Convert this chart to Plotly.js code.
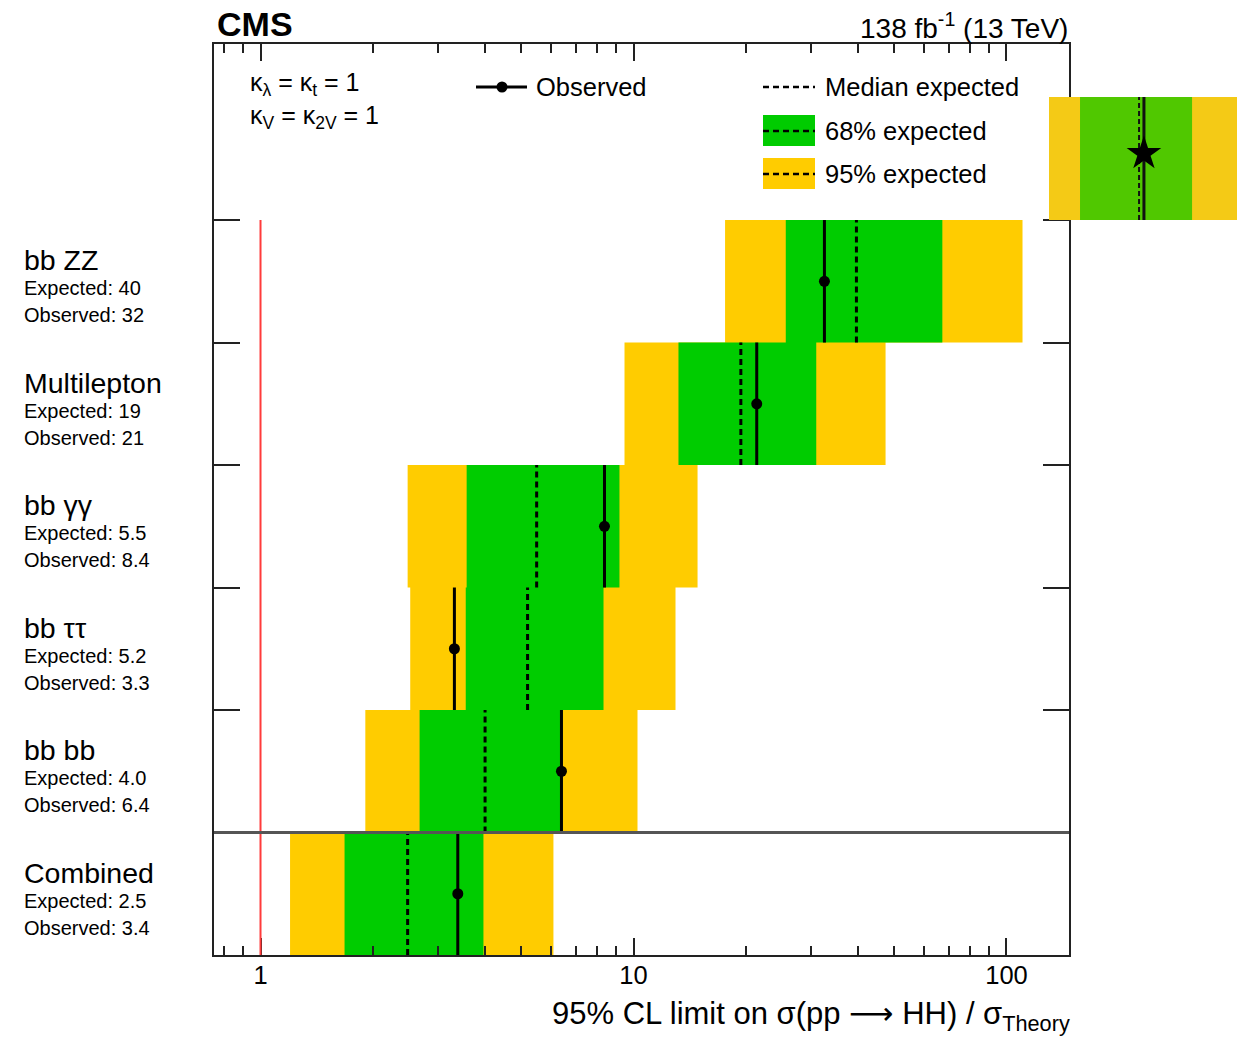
<!DOCTYPE html>
<html>
<head>
<meta charset="utf-8">
<script src="https://cdn.plot.ly/plotly-3.0.1.min.js"></script>
<style>html,body{margin:0;padding:0;background:#fff;}#chart{width:1237px;height:1042px;}</style>
</head>
<body>
<div id="chart"></div>
<script>
// ---------- data (top row first) ----------
const categories = ['bb ZZ', 'Multilepton', 'bb γγ', 'bb ττ', 'bb bb', 'Combined'];
const expectedText = ['40', '19', '5.5', '5.2', '4.0', '2.5'];
const observedText = ['32', '21', '8.4', '3.3', '6.4', '3.4'];
const medianExpected = [39.6, 19.4, 5.5, 5.2, 4.0, 2.48];
const observed = [32.5, 21.4, 8.36, 3.31, 6.41, 3.38];
const lo95 = [17.6, 9.46, 2.48, 2.52, 1.91, 1.20];
const lo68 = [25.6, 13.2, 3.57, 3.55, 2.67, 1.68];
const hi68 = [67.3, 30.9, 9.17, 8.31, 6.45, 3.96];
const hi95 = [110.4, 47.4, 14.85, 12.96, 10.25, 6.10];
const referenceLine = 1;
const xTickVals = [1, 10, 100];
const xTickText = ['1', '10', '100'];
const xMinorVals = [0.8, 0.9, 2, 3, 4, 5, 6, 7, 8, 9, 20, 30, 40, 50, 60, 70, 80, 90];

// inset (zoomed swatch at top right)
const insetBand95 = [0, 1];
const insetBand68 = [0.165, 0.761];
const insetExpected = 0.479;
const insetObserved = 0.505;
const insetStarY = 0.54;

// ---------- helpers ----------
const FONT = 'Liberation Sans, Arial, Helvetica, sans-serif';
const n = categories.length;
const rowIdx = i => n - 1 - i;   // bottom row = 0

function bandPoly(lo, hi) {
  const xs = [], ys = [];
  for (let i = 0; i < n; i++) {
    const r = rowIdx(i);
    xs.push(lo[i], hi[i], hi[i], lo[i], lo[i], null);
    ys.push(r, r, r + 1, r + 1, r, null);
  }
  return {xs, ys};
}
function vSegs(vals) {
  const xs = [], ys = [];
  for (let i = 0; i < n; i++) {
    const r = rowIdx(i);
    xs.push(vals[i], vals[i], null);
    ys.push(r, r + 1, null);
  }
  return {xs, ys};
}

const b95 = bandPoly(lo95, hi95);
const b68 = bandPoly(lo68, hi68);
const obsL = vSegs(observed);
const expL = vSegs(medianExpected);

const YELLOW = '#FFCC00', GREEN = '#00CC00';

const traces = [
  {x: b95.xs, y: b95.ys, type: 'scatter', mode: 'lines', fill: 'toself', fillcolor: YELLOW,
   line: {width: 0, color: YELLOW}, hoverinfo: 'skip', showlegend: false},
  {x: b68.xs, y: b68.ys, type: 'scatter', mode: 'lines', fill: 'toself', fillcolor: GREEN,
   line: {width: 0, color: GREEN}, hoverinfo: 'skip', showlegend: false},
  {x: expL.xs, y: expL.ys, type: 'scatter', mode: 'lines',
   line: {color: '#000', width: 3, dash: '6px,4px'}, hoverinfo: 'skip', showlegend: false},
  {x: obsL.xs, y: obsL.ys, type: 'scatter', mode: 'lines',
   line: {color: '#000', width: 3}, hoverinfo: 'skip', showlegend: false},
  {x: observed, y: categories.map((c, i) => rowIdx(i) + 0.5), type: 'scatter', mode: 'markers',
   marker: {color: '#000', size: 11}, showlegend: false},
  // inset
  {x: [insetBand95[0], insetBand95[1], insetBand95[1], insetBand95[0], insetBand95[0]],
   y: [0, 0, 1, 1, 0], xaxis: 'x2', yaxis: 'y2', type: 'scatter', mode: 'lines', fill: 'toself',
   fillcolor: '#F4CA16', line: {width: 0}, hoverinfo: 'skip', showlegend: false},
  {x: [insetBand68[0], insetBand68[1], insetBand68[1], insetBand68[0], insetBand68[0]],
   y: [0, 0, 1, 1, 0], xaxis: 'x2', yaxis: 'y2', type: 'scatter', mode: 'lines', fill: 'toself',
   fillcolor: '#50C800', line: {width: 0}, hoverinfo: 'skip', showlegend: false},
  {x: [insetExpected, insetExpected], y: [0, 1], xaxis: 'x2', yaxis: 'y2', type: 'scatter', mode: 'lines',
   line: {color: '#111', width: 2, dash: '5px,3px'}, showlegend: false},
  {x: [insetObserved, insetObserved], y: [0, 1], xaxis: 'x2', yaxis: 'y2', type: 'scatter', mode: 'lines',
   line: {color: '#111', width: 3}, showlegend: false},
  {x: [insetObserved], y: [insetStarY], xaxis: 'x2', yaxis: 'y2', type: 'scatter', mode: 'markers',
   marker: {symbol: 'star', size: 26, color: '#000'}, showlegend: false}
];

// pixel -> paper helpers (plot area: x 214..1237, y 44..955)
const X = px => (px - 214) / 1023;
const Y = py => (955 - py) / 911;

const annotations = [];
categories.forEach((c, i) => {
  const yc = rowIdx(i) + 0.5;
  annotations.push({xref: 'paper', yref: 'y', x: X(22), y: yc, yshift: 21, xanchor: 'left', yanchor: 'middle',
    text: c, showarrow: false, font: {family: FONT, size: 28.5, color: '#000'}});
  annotations.push({xref: 'paper', yref: 'y', x: X(22), y: yc, yshift: -7, xanchor: 'left', yanchor: 'middle',
    text: 'Expected: ' + expectedText[i], showarrow: false, font: {family: FONT, size: 20, color: '#000'}});
  annotations.push({xref: 'paper', yref: 'y', x: X(22), y: yc, yshift: -34, xanchor: 'left', yanchor: 'middle',
    text: 'Observed: ' + observedText[i], showarrow: false, font: {family: FONT, size: 20, color: '#000'}});
});
annotations.push(
  {xref: 'paper', yref: 'paper', x: X(215), y: Y(24), xanchor: 'left', yanchor: 'middle', showarrow: false,
   text: '<b>CMS</b>', font: {family: FONT, size: 34, color: '#000'}},
  {xref: 'paper', yref: 'paper', x: X(1070), y: Y(26), xanchor: 'right', yanchor: 'middle', showarrow: false,
   text: '138 fb<sup>-1</sup> (13 TeV)', font: {family: FONT, size: 28, color: '#000'}},
  {xref: 'x domain', yref: 'paper', x: 1.003, y: Y(1015), xanchor: 'right', yanchor: 'middle', showarrow: false,
   text: '95% CL limit on σ(pp <span style="font-family:DejaVu Sans">⟶</span> HH) / σ<sub>Theory</sub>',
   font: {family: FONT, size: 31, color: '#000'}},
  {xref: 'paper', yref: 'paper', x: X(248), y: Y(84), xanchor: 'left', yanchor: 'middle', showarrow: false,
   text: 'κ<sub>λ</sub> = κ<sub>t</sub> = 1', font: {family: FONT, size: 25, color: '#000'}},
  {xref: 'paper', yref: 'paper', x: X(248), y: Y(117), xanchor: 'left', yanchor: 'middle', showarrow: false,
   text: 'κ<sub>V</sub> = κ<sub>2V</sub> = 1', font: {family: FONT, size: 25, color: '#000'}},
  {xref: 'paper', yref: 'paper', x: X(534), y: Y(87), xanchor: 'left', yanchor: 'middle', showarrow: false,
   text: 'Observed', font: {family: FONT, size: 25.5, color: '#000'}},
  {xref: 'paper', yref: 'paper', x: X(823), y: Y(87), xanchor: 'left', yanchor: 'middle', showarrow: false,
   text: 'Median expected', font: {family: FONT, size: 25.5, color: '#000'}},
  {xref: 'paper', yref: 'paper', x: X(823), y: Y(131), xanchor: 'left', yanchor: 'middle', showarrow: false,
   text: '68% expected', font: {family: FONT, size: 25.5, color: '#000'}},
  {xref: 'paper', yref: 'paper', x: X(823), y: Y(174), xanchor: 'left', yanchor: 'middle', showarrow: false,
   text: '95% expected', font: {family: FONT, size: 25.5, color: '#000'}}
);

const shapes = [
  // reference line at 1
  {type: 'line', xref: 'x', yref: 'y', x0: referenceLine, x1: referenceLine, y0: 0, y1: n,
   line: {color: '#FF3B3B', width: 2}, layer: 'above'},
  // separator between combined and channels
  {type: 'line', xref: 'x domain', yref: 'y', x0: 0, x1: 1, y0: 1, y1: 1,
   line: {color: '#555', width: 3}, layer: 'above'},
  // legend: observed
  {type: 'line', xref: 'paper', yref: 'paper', x0: X(476), x1: X(527), y0: Y(87), y1: Y(87),
   line: {color: '#000', width: 3}},
  {type: 'circle', xref: 'paper', yref: 'paper', xsizemode: 'pixel', ysizemode: 'pixel',
   xanchor: X(502), yanchor: Y(87), x0: -5.5, x1: 5.5, y0: -5.5, y1: 5.5,
   fillcolor: '#000', line: {width: 0}},
  // legend: median expected
  {type: 'line', xref: 'paper', yref: 'paper', x0: X(763), x1: X(815), y0: Y(87), y1: Y(87),
   line: {color: '#000', width: 2.5, dash: '6px,4px'}},
  // legend: 68%
  {type: 'rect', xref: 'paper', yref: 'paper', x0: X(763), x1: X(815), y0: Y(146), y1: Y(115),
   fillcolor: GREEN, line: {width: 0}},
  {type: 'line', xref: 'paper', yref: 'paper', x0: X(763), x1: X(815), y0: Y(131), y1: Y(131),
   line: {color: '#000', width: 2.5, dash: '6px,4px'}},
  // legend: 95%
  {type: 'rect', xref: 'paper', yref: 'paper', x0: X(763), x1: X(815), y0: Y(189), y1: Y(158),
   fillcolor: YELLOW, line: {width: 0}},
  {type: 'line', xref: 'paper', yref: 'paper', x0: X(763), x1: X(815), y0: Y(174), y1: Y(174),
   line: {color: '#000', width: 2.5, dash: '6px,4px'}}
];

const layout = {
  width: 1237, height: 1042,
  margin: {l: 214, r: 0, t: 44, b: 87, pad: 0},
  paper_bgcolor: '#fff', plot_bgcolor: 'rgba(0,0,0,0)',
  showlegend: false,
  font: {family: FONT, color: '#000'},
  xaxis: {
    type: 'log', domain: [0, X(1069)], range: [-0.1247, 2.1676],
    tickmode: 'array', tickvals: xTickVals, ticktext: xTickText,
    ticks: 'inside', ticklen: 17, tickwidth: 2, tickcolor: '#222',
    minor: {tickmode: 'array', tickvals: xMinorVals, ticks: 'inside', ticklen: 9, tickwidth: 2, tickcolor: '#222', showgrid: false},
    showline: true, linecolor: '#222', linewidth: 2, mirror: 'ticks',
    showgrid: false, zeroline: false,
    tickfont: {family: FONT, size: 25.5, color: '#000'}, ticklabelstandoff: -4,
    fixedrange: true
  },
  yaxis: {
    range: [0, 7.437], domain: [0, 1],
    tickmode: 'array', tickvals: [1, 2, 3, 4, 5, 6], showticklabels: false,
    ticks: 'inside', ticklen: 26, tickwidth: 2, tickcolor: '#222',
    showline: true, linecolor: '#222', linewidth: 2, mirror: 'ticks',
    showgrid: false, zeroline: false, fixedrange: true
  },
  xaxis2: {domain: [X(1049), 1], range: [0, 1], anchor: 'y2', visible: false, fixedrange: true},
  yaxis2: {domain: [Y(220), Y(97)], range: [0, 1], anchor: 'x2', visible: false, fixedrange: true},
  annotations: annotations,
  shapes: shapes
};

Plotly.newPlot('chart', traces, layout, {displayModeBar: false, staticPlot: true});
</script>
</body>
</html>
